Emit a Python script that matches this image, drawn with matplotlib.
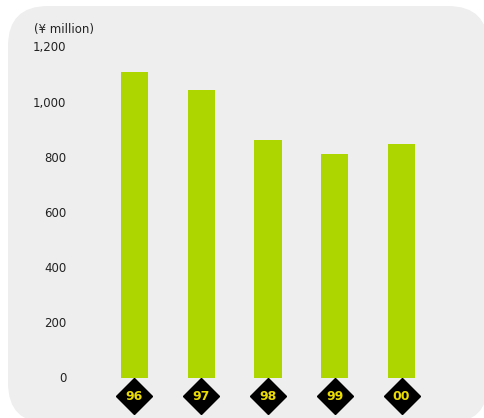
import matplotlib
matplotlib.use("Agg")
import matplotlib.pyplot as plt
from matplotlib.patches import FancyBboxPatch
import matplotlib.transforms as mtransforms

# Daten
years = ["96", "97", "98", "99", "00"]
values = [1107, 1042, 860, 810, 846]
yticks = [0, 200, 400, 600, 800, 1000, 1200]
ytick_labels = ["0", "200", "400", "600", "800", "1,000", "1,200"]

bar_green = (173/255, 214/255, 0/255)
bg_grey = (238/255, 238/255, 238/255)
label_yellow = (235/255, 220/255, 0/255)

W, H = 484, 418
fig = plt.figure(figsize=(W/100, H/100), dpi=100)

# Hintergrund mit abgerundeten Ecken (Pixel-Koordinaten)
bg = fig.add_axes([0, 0, 1, 1])
bg.set_xlim(0, W)
bg.set_ylim(H, 0)
bg.axis("off")
bg.add_patch(FancyBboxPatch((8, 6), 480, 417,
                            boxstyle="round,pad=0,rounding_size=40",
                            facecolor=bg_grey, edgecolor="none"))

# Diagramm
y0, y1 = 377.5, 46.5
x0, x1 = 101.1, 434.9
ax = fig.add_axes([x0/W, (H - y0)/H, (x1 - x0)/W, (y0 - y1)/H])
ax.patch.set_alpha(0)
xs = list(range(len(years)))
ax.bar(xs, values, width=0.405, color=bar_green)
ax.set_xlim(-0.5, len(years) - 0.5)
ax.set_ylim(0, 1200)
for s in ax.spines.values():
    s.set_visible(False)
ax.set_xticks([])
ax.set_yticks(yticks)
ax.set_yticklabels(ytick_labels, fontsize=8.5, color="#222222")
ax.tick_params(axis="y", length=0, pad=25)

ax.text(-0.201, 1.05, "(¥ million)", transform=ax.transAxes, fontsize=8.5,
        color="#222222", ha="left", va="center")

# Jahres-Rauten
trans = mtransforms.blended_transform_factory(ax.transData, ax.transAxes)
for x, yr in zip(xs, years):
    ax.plot(x, -0.056, marker="D", markersize=18.8, color="black",
            transform=trans, clip_on=False)
    ax.text(x, -0.056, yr, transform=trans, ha="center", va="center",
            fontsize=9, fontweight="bold", color=label_yellow, clip_on=False)

fig.savefig("out.png", dpi=100)
